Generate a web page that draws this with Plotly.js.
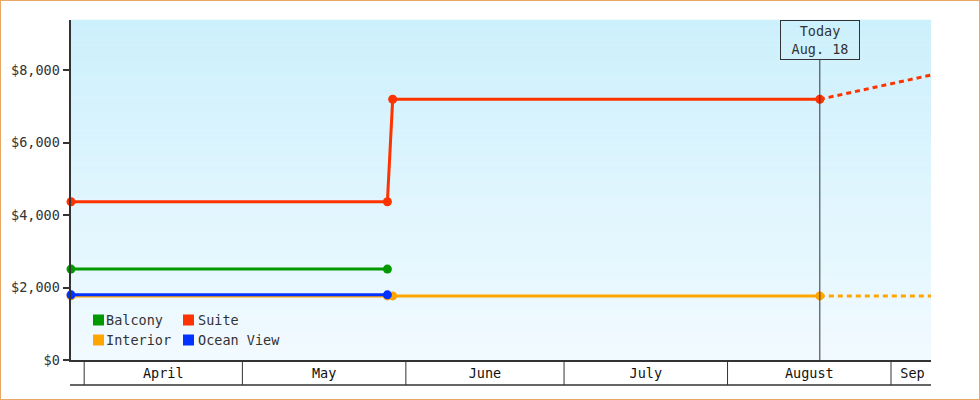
<!DOCTYPE html>
<html>
<head>
<meta charset="utf-8">
<script src="https://cdn.plot.ly/plotly-3.0.1.min.js"></script>
<style>
  html, body { margin: 0; padding: 0; background: #fff; }
  #chart { width: 978px; height: 398px; border: 1px solid #e9a965; }
</style>
</head>
<body>
<div id="chart"></div>
<script>
// ---- data ----
const seriesNames = ['Balcony', 'Suite', 'Interior', 'Ocean View'];
const seriesColors = ['#009900', '#ff3300', '#ffa500', '#0033ff'];
const dates = ['2024-03-29 12:00', '2024-05-28 12:00', '2024-05-29 12:00', '2024-08-18 12:00'];
const balcony = [2510, 2510, null, null];
const suite = [4370, 4370, 7200, 7200];
const interior = [1770, 1770, 1770, 1770];
const oceanView = [1800, 1800, null, null];
const forecastDates = ['2024-08-18 12:00', '2024-09-08 14:00'];
const suiteForecast = [7200, 7870];
const interiorForecast = [1770, 1770];
const monthStarts = ['2024-04-01', '2024-05-01', '2024-06-01', '2024-07-01', '2024-08-01', '2024-09-01'];
const monthTickVals = ['2024-04-16', '2024-05-16 12:00', '2024-06-16', '2024-07-16 12:00', '2024-08-16 12:00', '2024-09-05 02:00'];
const monthTickText = ['April', 'May', 'June', 'July', 'August', 'Sep'];
const yTickVals = [0, 2000, 4000, 6000, 8000];
const yTickText = ['$0', '$2,000', '$4,000', '$6,000', '$8,000'];
const todayDate = '2024-08-18 12:00';
const todayLabel = 'Today<br>Aug. 18';
const xRange = ['2024-03-29 12:00', '2024-09-08 14:00'];
const yRange = [0, 9390];

// ---- geometry helpers (plot area 860 x 340 px) ----
const PW = 860, PH = 340;
const px = v => v / PW;
const py = v => v / PH;

const FONT = 'DejaVu Sans Mono, Liberation Mono, monospace';
const FS = 13.5;
const TXT = '#333333';

function lineTrace(y, i) {
  return {
    x: dates, y: y, type: 'scatter', mode: 'lines+markers',
    name: seriesNames[i], showlegend: false, connectgaps: false, cliponaxis: false,
    line: { color: seriesColors[i], width: 3 },
    marker: { color: seriesColors[i], size: 9, symbol: 'circle' },
    hoverinfo: 'skip'
  };
}
function forecastTrace(y, i) {
  return {
    x: forecastDates, y: y, type: 'scatter', mode: 'lines',
    showlegend: false,
    line: { color: seriesColors[i], width: 3, dash: '5px,4px' },
    hoverinfo: 'skip'
  };
}

const data = [
  forecastTrace(suiteForecast, 1),
  forecastTrace(interiorForecast, 2),
  lineTrace(balcony, 0),
  lineTrace(suite, 1),
  lineTrace(interior, 2),
  lineTrace(oceanView, 3)
];

// ---- gradient background bands ----
const shapes = [];
const gradTop = [204, 240, 252], gradBot = [241, 250, 255];
const N = 40;
for (let k = 0; k < N; k++) {
  const t = (k + 0.5) / N;
  const c = gradTop.map((a, j) => Math.round(a + (gradBot[j] - a) * t));
  shapes.push({
    type: 'rect', xref: 'paper', yref: 'paper', layer: 'below',
    x0: 0, x1: 1, y0: 1 - (k + 1) / N, y1: 1 - k / N + 0.001,
    fillcolor: `rgb(${c[0]},${c[1]},${c[2]})`, line: { width: 0 }
  });
}
// month label boxes
monthStarts.forEach(d => shapes.push({
  type: 'line', xref: 'x', yref: 'paper', x0: d, x1: d, y0: 0, y1: -py(25),
  line: { color: TXT, width: 1 }
}));
shapes.push({
  type: 'line', xref: 'paper', yref: 'paper', x0: -px(1), x1: 1, y0: -py(25), y1: -py(25),
  line: { color: TXT, width: 1.5 }
});
// today line
shapes.push({
  type: 'line', xref: 'x', yref: 'paper', x0: todayDate, x1: todayDate, y0: 0, y1: 1 - py(40),
  line: { color: TXT, width: 1 }
});

// ---- legend built as swatches + text ----
const annotations = [];
const legendPos = [[22, 40, 12], [112, 40, 14], [22, 20, 12], [112, 20, 14]]; // px from plot left / bottom, text gap
seriesNames.forEach((name, i) => {
  const [lx, ly, gap] = legendPos[i];
  shapes.push({
    type: 'rect', xref: 'paper', yref: 'paper', layer: 'above',
    x0: px(lx), x1: px(lx + 11), y0: py(ly - 5.5), y1: py(ly + 5.5),
    fillcolor: seriesColors[i], line: { width: 0 }
  });
  annotations.push({
    xref: 'paper', yref: 'paper', x: px(lx + gap), y: py(ly),
    xanchor: 'left', yanchor: 'middle', showarrow: false,
    text: name, font: { family: FONT, size: FS, color: TXT }, borderpad: 0
  });
});
annotations.push({
  xref: 'x', yref: 'paper', x: todayDate, y: 1, xanchor: 'center', yanchor: 'top',
  showarrow: false, text: todayLabel, align: 'center',
  font: { family: FONT, size: FS, color: TXT },
  bordercolor: TXT, borderwidth: 1, borderpad: 2, width: 74, height: 34,
  bgcolor: 'rgba(0,0,0,0)'
});

const layout = {
  width: 978, height: 398,
  margin: { l: 70, r: 48, t: 19, b: 39, pad: 0 },
  paper_bgcolor: '#ffffff', plot_bgcolor: 'rgba(0,0,0,0)',
  showlegend: false,
  font: { family: FONT, size: FS, color: TXT },
  xaxis: {
    type: 'date', range: xRange, showgrid: false, zeroline: false,
    showline: true, linecolor: TXT, linewidth: 1.5,
    tickmode: 'array', tickvals: monthTickVals, ticktext: monthTickText,
    ticks: '', ticklen: 0, tickfont: { family: FONT, size: FS, color: '#111' },
    fixedrange: true
  },
  yaxis: {
    range: yRange, showgrid: false, zeroline: false,
    showline: true, linecolor: TXT, linewidth: 2.5,
    tickmode: 'array', tickvals: yTickVals, ticktext: yTickText,
    ticks: 'outside', ticklen: 6, tickwidth: 2, tickcolor: TXT,
    tickfont: { family: FONT, size: FS, color: TXT },
    fixedrange: true
  },
  shapes: shapes,
  annotations: annotations
};

Plotly.newPlot('chart', data, layout, { displayModeBar: false, staticPlot: true });
</script>
</body>
</html>
